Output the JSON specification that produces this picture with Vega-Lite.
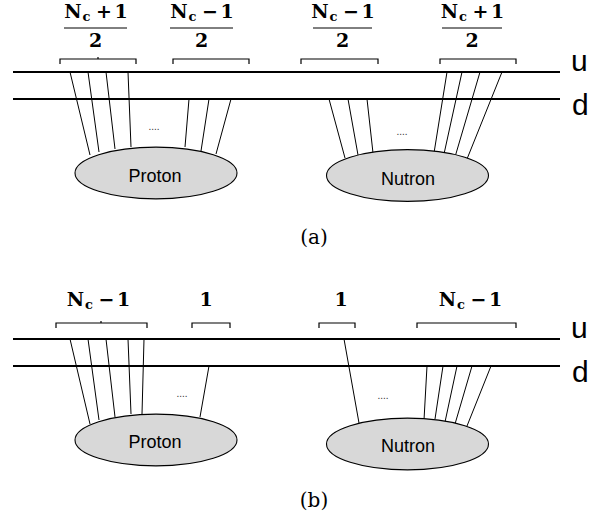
{
  "$schema": "https://vega.github.io/schema/vega-lite/v6.json",
  "width": 604,
  "height": 520,
  "autosize": {"type": "fit", "contains": "padding"},
  "padding": 0,
  "background": "white",
  "config": {"view": {"stroke": null}},
  "datasets": {
    "wires": [
      {"panel": "a", "wire": "u", "x": 13, "x2": 560, "y": 72},
      {"panel": "a", "wire": "d", "x": 13, "x2": 560, "y": 99},
      {"panel": "b", "wire": "u", "x": 13, "x2": 560, "y": 339},
      {"panel": "b", "wire": "d", "x": 13, "x2": 560, "y": 366}
    ],
    "quarks": [
      {"panel": "a", "hadron": "Proton", "x": 70, "y": 72, "x2": 90, "y2": 155},
      {"panel": "a", "hadron": "Proton", "x": 88, "y": 72, "x2": 99, "y2": 152},
      {"panel": "a", "hadron": "Proton", "x": 106, "y": 72, "x2": 115, "y2": 149},
      {"panel": "a", "hadron": "Proton", "x": 128, "y": 72, "x2": 131, "y2": 147},
      {"panel": "a", "hadron": "Proton", "x": 189, "y": 99, "x2": 185, "y2": 147},
      {"panel": "a", "hadron": "Proton", "x": 209, "y": 99, "x2": 201, "y2": 151},
      {"panel": "a", "hadron": "Proton", "x": 231, "y": 99, "x2": 216, "y2": 154},
      {"panel": "a", "hadron": "Nutron", "x": 329, "y": 99, "x2": 345, "y2": 158},
      {"panel": "a", "hadron": "Nutron", "x": 348, "y": 99, "x2": 358, "y2": 155},
      {"panel": "a", "hadron": "Nutron", "x": 367, "y": 99, "x2": 373, "y2": 153},
      {"panel": "a", "hadron": "Nutron", "x": 447, "y": 72, "x2": 434, "y2": 153},
      {"panel": "a", "hadron": "Nutron", "x": 462, "y": 72, "x2": 444, "y2": 154},
      {"panel": "a", "hadron": "Nutron", "x": 480, "y": 72, "x2": 455, "y2": 157},
      {"panel": "a", "hadron": "Nutron", "x": 502, "y": 72, "x2": 467, "y2": 159},
      {"panel": "b", "hadron": "Proton", "x": 70, "y": 339, "x2": 90, "y2": 424},
      {"panel": "b", "hadron": "Proton", "x": 88, "y": 339, "x2": 99, "y2": 420},
      {"panel": "b", "hadron": "Proton", "x": 106, "y": 339, "x2": 115, "y2": 417},
      {"panel": "b", "hadron": "Proton", "x": 128, "y": 339, "x2": 131, "y2": 414},
      {"panel": "b", "hadron": "Proton", "x": 144, "y": 339, "x2": 142, "y2": 414},
      {"panel": "b", "hadron": "Proton", "x": 209, "y": 366, "x2": 200, "y2": 417},
      {"panel": "b", "hadron": "Nutron", "x": 344, "y": 339, "x2": 359, "y2": 423},
      {"panel": "b", "hadron": "Nutron", "x": 427, "y": 366, "x2": 424, "y2": 420},
      {"panel": "b", "hadron": "Nutron", "x": 443, "y": 366, "x2": 435, "y2": 419},
      {"panel": "b", "hadron": "Nutron", "x": 457, "y": 366, "x2": 445, "y2": 422},
      {"panel": "b", "hadron": "Nutron", "x": 472, "y": 366, "x2": 455, "y2": 424},
      {"panel": "b", "hadron": "Nutron", "x": 491, "y": 366, "x2": 467, "y2": 426}
    ],
    "brackets": [
      {"id": "a1", "k": 1, "x": 60, "y": 64}, {"id": "a1", "k": 2, "x": 60, "y": 59}, {"id": "a1", "k": 3, "x": 136, "y": 59}, {"id": "a1", "k": 4, "x": 136, "y": 64},
      {"id": "a1t", "k": 1, "x": 98, "y": 59}, {"id": "a1t", "k": 2, "x": 98, "y": 57},
      {"id": "a2", "k": 1, "x": 173, "y": 64}, {"id": "a2", "k": 2, "x": 173, "y": 59}, {"id": "a2", "k": 3, "x": 249, "y": 59}, {"id": "a2", "k": 4, "x": 249, "y": 64},
      {"id": "a3", "k": 1, "x": 301, "y": 64}, {"id": "a3", "k": 2, "x": 301, "y": 59}, {"id": "a3", "k": 3, "x": 378, "y": 59}, {"id": "a3", "k": 4, "x": 378, "y": 64},
      {"id": "a4", "k": 1, "x": 440, "y": 64}, {"id": "a4", "k": 2, "x": 440, "y": 59}, {"id": "a4", "k": 3, "x": 516, "y": 59}, {"id": "a4", "k": 4, "x": 516, "y": 64},
      {"id": "b1", "k": 1, "x": 56, "y": 328}, {"id": "b1", "k": 2, "x": 56, "y": 323}, {"id": "b1", "k": 3, "x": 147, "y": 323}, {"id": "b1", "k": 4, "x": 147, "y": 328},
      {"id": "b1t", "k": 1, "x": 101, "y": 323}, {"id": "b1t", "k": 2, "x": 101, "y": 321},
      {"id": "b2", "k": 1, "x": 192, "y": 328}, {"id": "b2", "k": 2, "x": 192, "y": 323}, {"id": "b2", "k": 3, "x": 230, "y": 323}, {"id": "b2", "k": 4, "x": 230, "y": 328},
      {"id": "b3", "k": 1, "x": 319, "y": 328}, {"id": "b3", "k": 2, "x": 319, "y": 323}, {"id": "b3", "k": 3, "x": 355, "y": 323}, {"id": "b3", "k": 4, "x": 355, "y": 328},
      {"id": "b4", "k": 1, "x": 417, "y": 328}, {"id": "b4", "k": 2, "x": 417, "y": 323}, {"id": "b4", "k": 3, "x": 516, "y": 323}, {"id": "b4", "k": 4, "x": 516, "y": 328}
    ],
    "fracbars": [
      {"x": 64, "x2": 127, "y": 28},
      {"x": 170, "x2": 233, "y": 28},
      {"x": 313, "x2": 372, "y": 28},
      {"x": 442, "x2": 502, "y": 28}
    ],
    "hadrons": [
      {"name": "Proton", "panel": "a", "x": 156, "y": 173},
      {"name": "Nutron", "panel": "a", "x": 407.5, "y": 175.5},
      {"name": "Proton", "panel": "b", "x": 156, "y": 440},
      {"name": "Nutron", "panel": "b", "x": 407.5, "y": 444}
    ],
    "hadronLabels": [
      {"t": "Proton", "x": 155, "y": 182},
      {"t": "Nutron", "x": 408, "y": 185},
      {"t": "Proton", "x": 155, "y": 448},
      {"t": "Nutron", "x": 408, "y": 452}
    ],
    "math": [
      {"t": "N", "x": 73, "y": 18}, {"t": "+", "x": 104, "y": 18}, {"t": "1", "x": 121, "y": 18}, {"t": "2", "x": 95.5, "y": 47},
      {"t": "N", "x": 179, "y": 18}, {"t": "−", "x": 210, "y": 18}, {"t": "1", "x": 227, "y": 18}, {"t": "2", "x": 201.5, "y": 47},
      {"t": "N", "x": 320, "y": 18}, {"t": "−", "x": 351, "y": 18}, {"t": "1", "x": 368, "y": 18}, {"t": "2", "x": 342.5, "y": 47},
      {"t": "N", "x": 449.5, "y": 18}, {"t": "+", "x": 480.5, "y": 18}, {"t": "1", "x": 497.5, "y": 18}, {"t": "2", "x": 472, "y": 47},
      {"t": "N", "x": 75.5, "y": 306}, {"t": "−", "x": 106.5, "y": 306}, {"t": "1", "x": 123.5, "y": 306},
      {"t": "1", "x": 206, "y": 306},
      {"t": "1", "x": 341, "y": 306},
      {"t": "N", "x": 447.5, "y": 306}, {"t": "−", "x": 478.5, "y": 306}, {"t": "1", "x": 495.5, "y": 306}
    ],
    "subs": [
      {"t": "c", "x": 86.5, "y": 21},
      {"t": "c", "x": 192.5, "y": 21},
      {"t": "c", "x": 333.5, "y": 21},
      {"t": "c", "x": 463, "y": 21},
      {"t": "c", "x": 89, "y": 309},
      {"t": "c", "x": 461, "y": 309}
    ],
    "wireLabels": [
      {"t": "u", "x": 571, "y": 71},
      {"t": "d", "x": 572, "y": 115},
      {"t": "u", "x": 571, "y": 338},
      {"t": "d", "x": 572, "y": 382}
    ],
    "dots": [
      {"t": "....", "x": 154, "y": 130},
      {"t": "....", "x": 402, "y": 135},
      {"t": "....", "x": 182, "y": 397},
      {"t": "....", "x": 383, "y": 399}
    ],
    "panels": [
      {"t": "(a)", "x": 314, "y": 244},
      {"t": "(b)", "x": 314, "y": 507}
    ]
  },
  "encoding": {
    "x": {"field": "x", "type": "quantitative", "scale": {"domain": [0, 604], "nice": false, "zero": false}, "axis": null},
    "y": {"field": "y", "type": "quantitative", "scale": {"domain": [0, 520], "nice": false, "zero": false, "reverse": true}, "axis": null}
  },
  "layer": [
    {
      "data": {"name": "quarks"},
      "mark": {"type": "rule", "color": "black", "strokeWidth": 1},
      "encoding": {"x2": {"field": "x2"}, "y2": {"field": "y2"}}
    },
    {
      "data": {"name": "hadrons"},
      "mark": {"type": "point", "shape": "M -1 0 A 1 0.32 0 1 1 1 0 A 1 0.32 0 1 1 -1 0 Z", "size": 26244, "filled": true, "fill": "#d8d8d8", "stroke": "black", "strokeWidth": 1.1, "opacity": 1},
      "encoding": {}
    },
    {
      "data": {"name": "wires"},
      "mark": {"type": "rule", "color": "black", "strokeWidth": 2},
      "encoding": {"x2": {"field": "x2"}}
    },
    {
      "data": {"name": "brackets"},
      "mark": {"type": "line", "color": "black", "strokeWidth": 1.2, "interpolate": "linear"},
      "encoding": {"detail": {"field": "id", "type": "nominal"}, "order": {"field": "k", "type": "quantitative"}}
    },
    {
      "data": {"name": "fracbars"},
      "mark": {"type": "rule", "color": "black", "strokeWidth": 1},
      "encoding": {"x2": {"field": "x2"}}
    },
    {
      "data": {"name": "math"},
      "mark": {"type": "text", "font": "DejaVu Serif", "fontWeight": "bold", "fontSize": 19, "align": "center", "baseline": "alphabetic", "color": "black"},
      "encoding": {"text": {"field": "t"}}
    },
    {
      "data": {"name": "subs"},
      "mark": {"type": "text", "font": "DejaVu Serif", "fontWeight": "bold", "fontSize": 13, "align": "center", "baseline": "alphabetic", "color": "black"},
      "encoding": {"text": {"field": "t"}}
    },
    {
      "data": {"name": "hadronLabels"},
      "mark": {"type": "text", "font": "Liberation Sans", "fontSize": 18, "align": "center", "baseline": "alphabetic", "color": "black"},
      "encoding": {"text": {"field": "t"}}
    },
    {
      "data": {"name": "wireLabels"},
      "mark": {"type": "text", "font": "Liberation Sans", "fontSize": 30, "align": "left", "baseline": "alphabetic", "color": "black"},
      "encoding": {"text": {"field": "t"}}
    },
    {
      "data": {"name": "dots"},
      "mark": {"type": "text", "font": "Liberation Sans", "fontSize": 10, "align": "center", "baseline": "alphabetic", "color": "#333333"},
      "encoding": {"text": {"field": "t"}}
    },
    {
      "data": {"name": "panels"},
      "mark": {"type": "text", "font": "DejaVu Serif", "fontSize": 20, "align": "center", "baseline": "alphabetic", "color": "black"},
      "encoding": {"text": {"field": "t"}}
    }
  ]
}
